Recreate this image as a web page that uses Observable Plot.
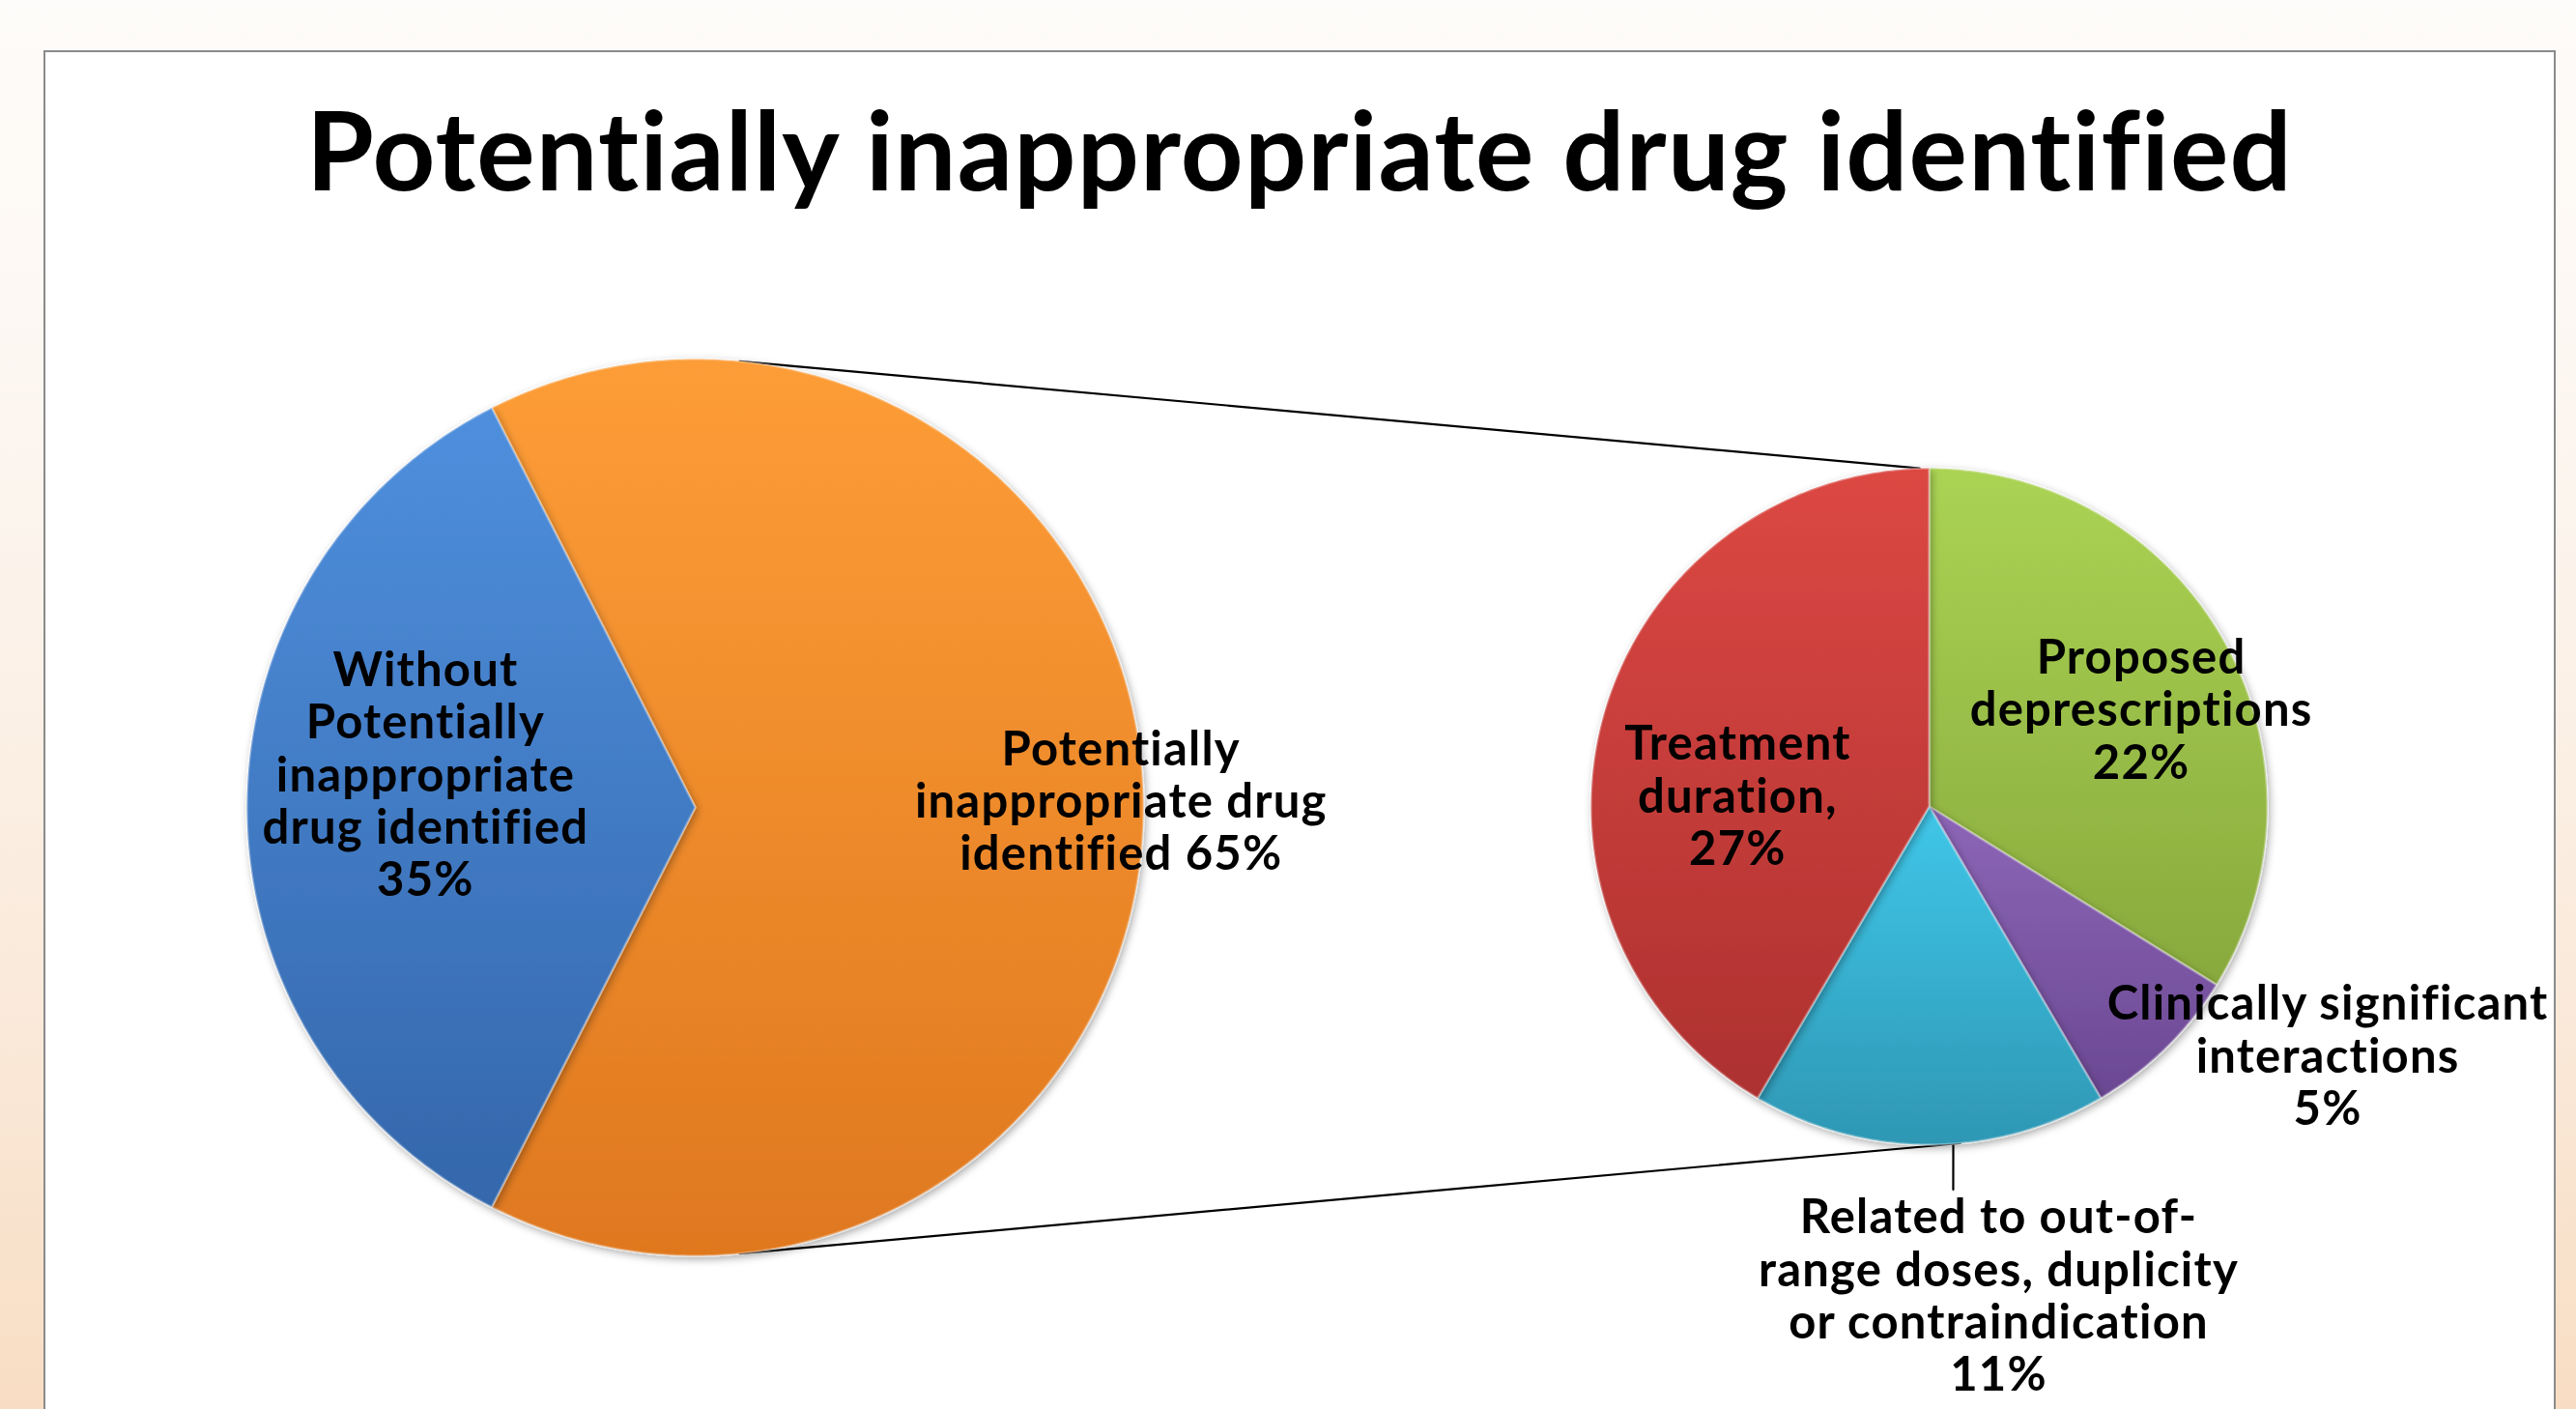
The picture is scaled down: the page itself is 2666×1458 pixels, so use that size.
<!DOCTYPE html>
<html>
<head>
<meta charset="utf-8">
<script src="https://cdn.jsdelivr.net/npm/d3@7"></script>
<script src="https://cdn.jsdelivr.net/npm/@observablehq/plot@0.6"></script>
<style>
  html, body { margin: 0; padding: 0; width: 2666px; height: 1458px; overflow: hidden; }
  body {
    position: relative;
    background: linear-gradient(to bottom, #fefcfa 0%, #fcf5ee 35%, #faeadb 70%, #f8ddc3 100%);
    font-family: Lato, "Open Sans", sans-serif;
  }
  #frame {
    position: absolute; left: 45px; top: 52px; width: 2596px; height: 1500px;
    border: 2px solid #8a8a8a; background: #ffffff;
  }
  #title {
    position: absolute; left: 45px; top: 97px; width: 2600px; text-align: center;
    font: 700 113px Lato, sans-serif; line-height: 1; color: #000;
    letter-spacing: 1.2px; white-space: nowrap;
  }
  #chart { position: absolute; left: 0; top: 240px; }
  #chart text { letter-spacing: 1.2px; }
</style>
</head>
<body>
<div id="frame"></div>
<div id="title">Potentially inappropriate drug identified</div>
<div id="chart"></div>
<script>
// ---------- data ----------
const mainCategories = ["Potentially inappropriate drug identified", "Without Potentially inappropriate drug identified"];
const mainValues = [65, 35];
const mainLabels = ["Potentially\ninappropriate drug\nidentified 65%", "Without\nPotentially\ninappropriate\ndrug identified\n35%"];

const subCategories = ["Proposed deprescriptions", "Clinically significant interactions", "Related to out-of-range doses, duplicity or contraindication", "Treatment duration"];
const subValues = [22, 5, 11, 27];
const subLabels = ["Proposed\ndeprescriptions\n22%", "Clinically significant\ninteractions\n5%", "Related to out-of-\nrange doses, duplicity\nor contraindication\n11%", "Treatment\nduration,\n27%"];

// ---------- layout ----------
const W = 2666, H = 1218, TOP = 240;
const bigPie = {cx: 719, cy: 835, r: 464, start: -27};
const smallPie = {cx: 1996, cy: 834, r: 350, start: 0};
const mainColors = [["#fd9d37", "#df781f"], ["#4f8fdd", "#3467ab"]];
const subColors = [["#abd353", "#88a93d"], ["#8d66b8", "#6b4892"], ["#40c7e9", "#2e97b4"], ["#dc4843", "#ad3130"]];
// label placement: angle (deg, clockwise from north) and radius factor relative to pie
const mainLabelPos = [{a: 89.1, k: 0.95}, {a: 277, k: 0.606}];
const subLabelPos = [{a: 65.4, k: 0.69}, {a: 122, k: 1.39}, {a: 171.9, k: 1.46}, {a: 273.2, k: 0.567}];
const labelFont = 49, labelLH = 1.11;

const rad = d => d * Math.PI / 180;
const polar = (p, aDeg, k) => ({x: p.cx + k * p.r * Math.sin(rad(aDeg)), y: p.cy - k * p.r * Math.cos(rad(aDeg))});

function slices(pie, values, group) {
  const arcs = d3.pie().sort(null).value(d => d).startAngle(rad(pie.start)).endAngle(rad(pie.start + 360))(values);
  const pts = [];
  arcs.forEach((a, i) => {
    const id = group + i;
    pts.push({id, x: pie.cx, y: pie.cy});
    const n = Math.max(8, Math.ceil((a.endAngle - a.startAngle) * 90));
    for (let j = 0; j <= n; j++) {
      const t = a.startAngle + (a.endAngle - a.startAngle) * j / n;
      pts.push({id, x: pie.cx + pie.r * Math.sin(t), y: pie.cy - pie.r * Math.cos(t)});
    }
  });
  return {arcs, pts};
}

const big = slices(bigPie, mainValues, "m");
const small = slices(smallPie, subValues, "s");

const labels = [
  ...mainLabels.map((t, i) => ({text: t, ...polar(bigPie, mainLabelPos[i].a, mainLabelPos[i].k)})),
  ...subLabels.map((t, i) => ({text: t, ...polar(smallPie, subLabelPos[i].a, subLabelPos[i].k)}))
];

// connector lines between the pies and label leader
const connectors = [
  {id: "top", ...polar(bigPie, 5.7, 1)}, {id: "top", ...polar(smallPie, -1.6, 1)},
  {id: "bot", ...polar(bigPie, 174.3, 1)}, {id: "bot", ...polar(smallPie, 174.7, 1)},
  {id: "lead", ...polar(smallPie, 175.9, 1)}, {id: "lead", ...polar(smallPie, 176.4, 1.135)}
];

const sliceMarks = [];
big.arcs.forEach((a, i) => sliceMarks.push(Plot.line(big.pts.filter(d => d.id === "m" + i), {
  x: "x", y: "y", curve: "linear-closed", fill: `url(#g-m${i})`, stroke: "#ffffff", strokeOpacity: 0.3, strokeWidth: 2.5
})));
small.arcs.forEach((a, i) => sliceMarks.push(Plot.line(small.pts.filter(d => d.id === "s" + i), {
  x: "x", y: "y", curve: "linear-closed", fill: `url(#g-s${i})`, stroke: "#ffffff", strokeOpacity: 0.3, strokeWidth: 2.5
})));

const plot = Plot.plot({
  width: W, height: H, margin: 0,
  x: {domain: [0, W], range: [0, W], axis: null},
  y: {domain: [TOP, TOP + H], range: [0, H], axis: null},
  style: {background: "transparent", overflow: "visible", fontFamily: "Lato, sans-serif"},
  marks: [
    Plot.line(connectors, {x: "x", y: "y", z: "id", stroke: "#000", strokeWidth: 2.2}),
    ...sliceMarks,
    Plot.text(labels, {x: "x", y: "y", text: "text", fontSize: labelFont, fontWeight: "bold", lineHeight: labelLH,
      textAnchor: "middle", lineAnchor: "middle", fill: "#000"})
  ]
});

// gradients + soft shadow
const svg = d3.select(plot);
const defs = svg.insert("defs", ":first-child");
const addGrad = (id, c) => {
  const g = defs.append("linearGradient").attr("id", id).attr("x1", 0).attr("y1", 0).attr("x2", 0).attr("y2", 1);
  g.append("stop").attr("offset", "0%").attr("stop-color", c[0]);
  g.append("stop").attr("offset", "100%").attr("stop-color", c[1]);
};
mainColors.forEach((c, i) => addGrad("g-m" + i, c));
subColors.forEach((c, i) => addGrad("g-s" + i, c));
const f = defs.append("filter").attr("id", "shadow").attr("x", "-10%").attr("y", "-10%").attr("width", "120%").attr("height", "120%");
f.append("feDropShadow").attr("dx", 2).attr("dy", 3).attr("stdDeviation", 4).attr("flood-color", "#000").attr("flood-opacity", 0.35);
svg.selectAll("g[aria-label='line']").filter((d, i) => i > 0).attr("filter", "url(#shadow)");

document.getElementById("chart").appendChild(plot);
</script>
</body>
</html>
